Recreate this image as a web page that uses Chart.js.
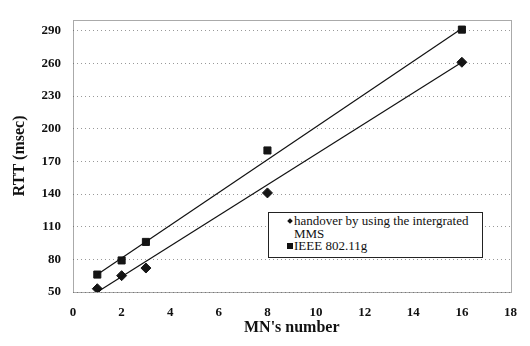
<!DOCTYPE html>
<html>
<head>
<meta charset="utf-8">
<script src="https://cdn.jsdelivr.net/npm/chart.js@4/dist/chart.umd.min.js"></script>
<style>
  body { margin: 0; background: #fff; }
  #wrap { position: relative; width: 530px; height: 346px; }
  #legend {
    position: absolute; left: 268px; top: 212px; width: 215px;
    border: 1px solid #222; background: #fff;
    font: 13px "Liberation Serif", serif; line-height: 12.5px; color: #111;
    padding: 2px 0 4px 0; box-sizing: border-box;
  }
  .row { display: flex; align-items: flex-start; }
  .mk { width: 25px; flex: none; position: relative; height: 12.5px; }
  .dia { position: absolute; left: 19px; top: 4px; width: 4px; height: 4px; background: #111; transform: rotate(45deg); }
  .sq { position: absolute; left: 18px; top: 3px; width: 6px; height: 6px; background: #111; }
</style>
</head>
<body>
<div id="wrap">
  <canvas id="chart" width="530" height="346"></canvas>
  <div id="legend">
    <div class="row"><span class="mk"><span class="dia"></span></span><span>handover by using the intergrated MMS</span></div>
    <div class="row"><span class="mk"><span class="sq"></span></span><span>IEEE 802.11g</span></div>
  </div>
</div>
<script>
// values
var mnNumbers = [1, 2, 3, 8, 16]
var rttHandover = [53, 65, 72, 141, 261]
var rttIeee = [66, 79, 96, 180, 291]
// trend line end points (x = 1 and x = 16)
var trendX = [1, 16]
var trendHandover = [50, 261]
var trendIeee = [66, 292]

var seriesNames = ["handover by using the intergrated MMS", "IEEE 802.11g"]
var yTicks = [50, 80, 110, 140, 170, 200, 230, 260, 290]

function toPoints(xs, ys) {
    var pts = []
    xs.forEach((x, i) => pts.push({ x: x, y: ys[i] }))
    return pts
}

var tickFont = { family: "Liberation Serif", size: 13, weight: "bold" }
var titleFont = { family: "Liberation Serif", size: 16, weight: "bold" }

// dotted frame round the plot area
var plotFrame = {
    id: "plotFrame",
    beforeDatasetsDraw(chart) {
        var a = chart.chartArea
        var ctx = chart.ctx
        ctx.save()
        ctx.strokeStyle = "#555"
        ctx.lineWidth = 1
        ctx.setLineDash([1, 1])
        ctx.strokeRect(Math.round(a.left) + 0.5, Math.round(a.top) + 0.5, Math.round(a.right - a.left), Math.round(a.bottom - a.top))
        ctx.restore()
    }
}

new Chart("chart", {
    type: "scatter",
    data: {
        datasets: [
            {
                label: seriesNames[0] + " trend",
                data: toPoints(trendX, trendHandover),
                showLine: true, pointRadius: 0, borderColor: "#111", borderWidth: 1.2
            },
            {
                label: seriesNames[1] + " trend",
                data: toPoints(trendX, trendIeee),
                showLine: true, pointRadius: 0, borderColor: "#111", borderWidth: 1.2
            },
            {
                label: seriesNames[0],
                data: toPoints(mnNumbers, rttHandover),
                pointStyle: "rectRot", pointRadius: 5,
                backgroundColor: "#151515", borderColor: "#151515"
            },
            {
                label: seriesNames[1],
                data: toPoints(mnNumbers, rttIeee),
                pointStyle: "rect", pointRadius: 5,
                backgroundColor: "#151515", borderColor: "#151515"
            }
        ]
    },
    options: {
        responsive: false,
        animation: false,
        layout: { padding: { top: 3, right: 14, left: 0, bottom: 0 } },
        plugins: { legend: { display: false }, tooltip: { enabled: false } },
        scales: {
            x: {
                type: "linear", min: 0, max: 18,
                ticks: { stepSize: 2, padding: 13, color: "#111", font: tickFont },
                grid: { display: false, drawTicks: false },
                border: { display: false },
                title: { display: true, text: "MN's number", color: "#111", font: titleFont, padding: { top: 0, bottom: 9 } },
                afterFit(scale) { scale.height = 54 }
            },
            y: {
                type: "linear", min: 50, max: 300,
                afterBuildTicks(scale) { scale.ticks = yTicks.map(v => ({ value: v })) },
                ticks: { padding: 12, color: "#111", font: tickFont },
                grid: { color: "#999", lineWidth: 1, drawTicks: false },
                border: { display: false, dash: [1, 3] },
                title: { display: true, text: "RTT (msec)", color: "#111", font: titleFont, padding: { top: 10, bottom: 0 } },
                afterFit(scale) { scale.width = 73 }
            }
        }
    },
    plugins: [plotFrame]
})
</script>
</body>
</html>
